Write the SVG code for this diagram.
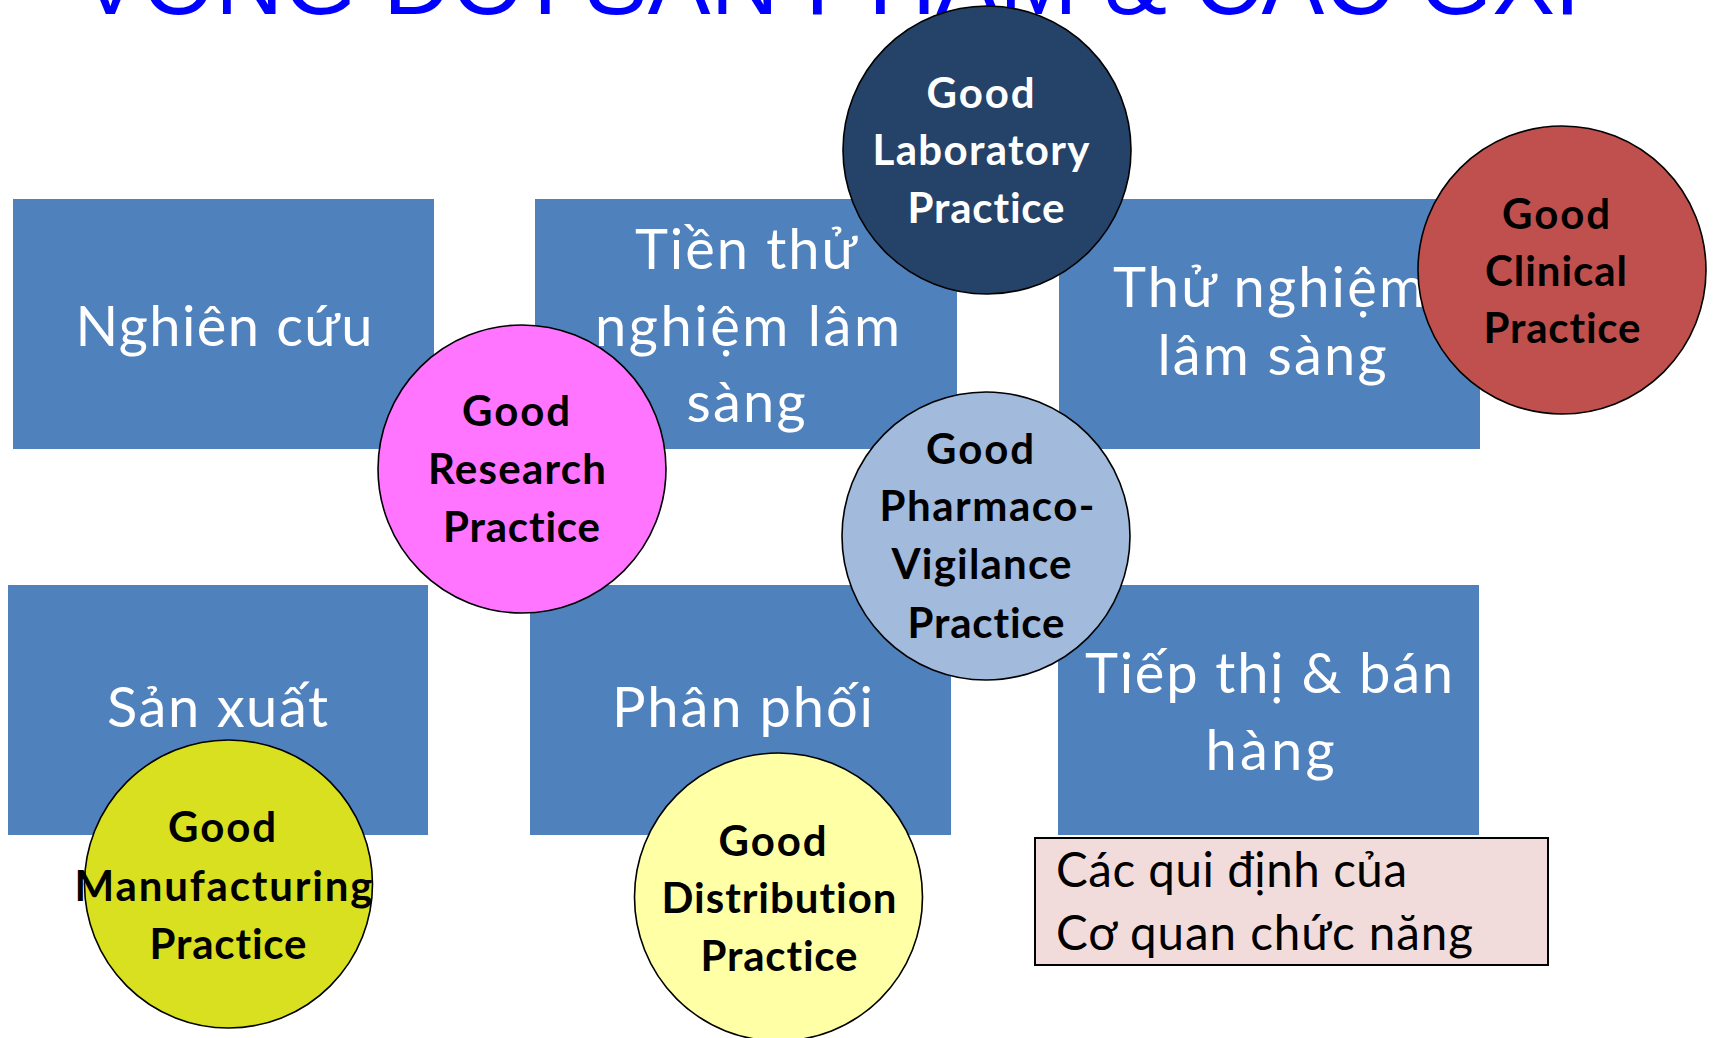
<svg xmlns="http://www.w3.org/2000/svg" width="1713" height="1038" viewBox="0 0 1713 1038">
<style>
.bg{fill:#ffffff}
text{font-variant-ligatures:none;font-feature-settings:"liga" 0,"clig" 0,"dlig" 0}
.title{font-family:"Liberation Sans",Arial,sans-serif;font-size:94px;fill:#0000FF}
.blk{fill:#4F81BD}
.lbl{font-family:Lato,"Open Sans","Noto Sans",sans-serif;font-size:56px;fill:#ffffff;text-anchor:middle}
.gxp{stroke:#000000;stroke-width:1.6}
.ct{font-family:Lato,"Open Sans","Noto Sans",sans-serif;font-weight:bold;font-size:42px;fill:#000000;text-anchor:middle}
.ctw{fill:#ffffff}
.reg{fill:#F2DCDB;stroke:#000000;stroke-width:2}
.regt{font-family:Lato,"Open Sans","Noto Sans",sans-serif;font-size:47.5px;fill:#000000}
</style>
<rect class="bg" x="0" y="0" width="1713" height="1038"/>
<text id="title" class="title" x="79" y="14" textLength="1539">VÒNG ĐỜI SẢN PHẨM &amp; CÁC GXP</text>

<g id="stages">
  <g id="nghien-cuu">
    <rect class="blk" x="13" y="199" width="421" height="250"/>
    <text class="lbl" x="224" y="346" textLength="297">Nghiên cứu</text>
  </g>
  <g id="tien-thu-nghiem">
    <rect class="blk" x="535" y="199" width="422" height="250"/>
    <text class="lbl" x="746" y="269" textLength="222">Tiền thử</text>
    <text class="lbl" x="747.5" y="346" textLength="305">nghiệm lâm</text>
    <text class="lbl" x="746" y="422" textLength="119">sàng</text>
  </g>
  <g id="thu-nghiem">
    <rect class="blk" x="1059" y="199" width="421" height="250"/>
    <text class="lbl" x="1269" y="307" textLength="312">Thử nghiệm</text>
    <text class="lbl" x="1272" y="375" textLength="229">lâm sàng</text>
  </g>
  <g id="san-xuat">
    <rect class="blk" x="8" y="585" width="420" height="250"/>
    <text class="lbl" x="217.5" y="727" textLength="221">Sản xuất</text>
  </g>
  <g id="phan-phoi">
    <rect class="blk" x="530" y="585" width="421" height="250"/>
    <text class="lbl" x="742.5" y="727" textLength="261">Phân phối</text>
  </g>
  <g id="tiep-thi">
    <rect class="blk" x="1058" y="585" width="421" height="250"/>
    <text class="lbl" x="1269" y="693" textLength="368">Tiếp thị &amp; bán</text>
    <text class="lbl" x="1270" y="770" textLength="129">hàng</text>
  </g>
</g>

<g id="connectors"></g>

<g id="glp">
  <circle class="gxp" cx="987" cy="150" r="144" fill="#254369"/>
  <text class="ct ctw" x="980.5" y="107.5" textLength="108">Good</text>
  <text class="ct ctw" x="981" y="165" textLength="217">Laboratory</text>
  <text class="ct ctw" x="986" y="223" textLength="157">Practice</text>
</g>
<g id="gcp">
  <circle class="gxp" cx="1562" cy="270" r="144" fill="#C0504D"/>
  <text class="ct" x="1556" y="228.5" textLength="108">Good</text>
  <text class="ct" x="1556" y="286" textLength="142">Clinical</text>
  <text class="ct" x="1562" y="343" textLength="157">Practice</text>
</g>
<g id="grp">
  <circle class="gxp" cx="522" cy="469" r="144" fill="#FF75FF"/>
  <text class="ct" x="516" y="426" textLength="108">Good</text>
  <text class="ct" x="517" y="484" textLength="178">Research</text>
  <text class="ct" x="521.5" y="542" textLength="157">Practice</text>
</g>
<g id="gpv">
  <circle class="gxp" cx="986" cy="536" r="144" fill="#A2BADC"/>
  <text class="ct" x="980" y="464" textLength="108">Good</text>
  <text class="ct" x="987" y="521" textLength="215">Pharmaco-</text>
  <text class="ct" x="981.5" y="579" textLength="180">Vigilance</text>
  <text class="ct" x="986" y="638" textLength="157">Practice</text>
</g>
<g id="gmp">
  <circle class="gxp" cx="228.5" cy="884" r="144" fill="#D8E020"/>
  <text class="ct" x="222" y="841.5" textLength="108">Good</text>
  <text class="ct" x="223.5" y="901" textLength="298">Manufacturing</text>
  <text class="ct" x="228" y="959" textLength="157">Practice</text>
</g>
<g id="gdp">
  <circle class="gxp" cx="778.5" cy="897" r="144" fill="#FFFFA6"/>
  <text class="ct" x="772.5" y="855.5" textLength="108">Good</text>
  <text class="ct" x="779" y="913" textLength="235">Distribution</text>
  <text class="ct" x="779" y="971" textLength="157">Practice</text>
</g>

<g id="regulations">
  <rect class="reg" x="1035" y="838" width="513" height="127"/>
  <text class="regt" x="1056" y="887" textLength="351">Các qui định của</text>
  <text class="regt" x="1056" y="950" textLength="417">Cơ quan chức năng</text>
</g>
</svg>
